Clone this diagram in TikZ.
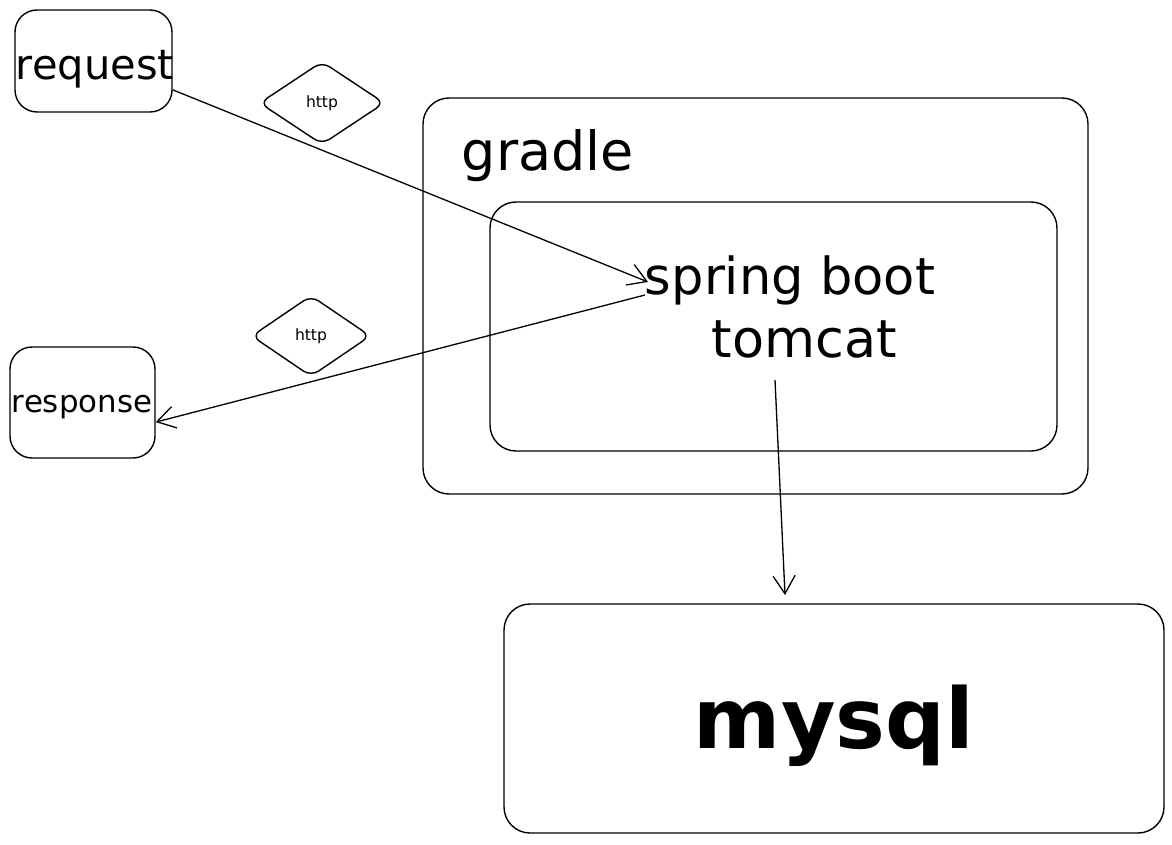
\documentclass[tikz,border=0pt]{standalone}
\usepackage{fontspec}
\setmainfont{DejaVu Sans}
\usetikzlibrary{arrows.meta,shapes.geometric,calc}
\tikzset{
  box/.style={draw, line width=1.4pt, rounded corners=22pt, inner sep=0pt},
  bigbox/.style={draw, line width=1.4pt, rounded corners=26pt, inner sep=0pt},
  label/.style={inner sep=0pt, anchor=base},
  dia/.style={draw, diamond, line width=1.4pt, rounded corners=9pt, inner sep=0pt},
  conn/.style={line width=1.3pt, -{Straight Barb[length=18pt,width=22pt]}}
}
\newcommand{\fitw}[2]{\resizebox{#1}{!}{#2}}
\begin{document}
\begin{tikzpicture}[x=1pt,y=-1pt]
\useasboundingbox (0,0) rectangle (1172,845);
% boxes
\node[box, minimum width=157pt, minimum height=102pt] (req) at (93.5,61) {};
\node[box, minimum width=145pt, minimum height=111pt] (resp) at (82.5,402.5) {};
\node[bigbox, minimum width=665pt, minimum height=396pt] (gradlebox) at (755.5,296) {};
\node[bigbox, minimum width=567pt, minimum height=249pt] (inner) at (773.5,326.5) {};
\node[bigbox, minimum width=660pt, minimum height=229pt] (db) at (834,718.5) {};
% diamonds
\node[dia, minimum width=125pt, minimum height=83pt] (d1) at (322,103) {\fitw{32pt}{http}};
\node[dia, minimum width=119pt, minimum height=81pt] (d2) at (311,336) {\fitw{32pt}{http}};
% texts
\node[label] (reqt) at (95,80) {\fitw{158pt}{request}};
\node[label] (respt) at (82,412) {\fitw{140pt}{response}};
\node[label] (gradle) at (548,171) {\fitw{172pt}{gradle}};
\node[label] (spring) at (790,294) {\fitw{290pt}{spring boot}};
\node[label] (tomcat) at (804.5,357) {\fitw{185pt}{tomcat}};
\node[label] (mysql) at (834,748) {\fitw{280pt}{\bfseries mysql}};
% connectors
\coordinate (a1e) at (648,282);
\coordinate (a2s) at (645,295);
\coordinate (a3s) at (775,380);
\coordinate (a3e) at (785,595);
\draw[conn] (req.-20) -- (a1e);
\draw[conn] (a2s) -- (resp.-15);
\draw[conn] (a3s) -- (a3e);
\end{tikzpicture}
\end{document}
